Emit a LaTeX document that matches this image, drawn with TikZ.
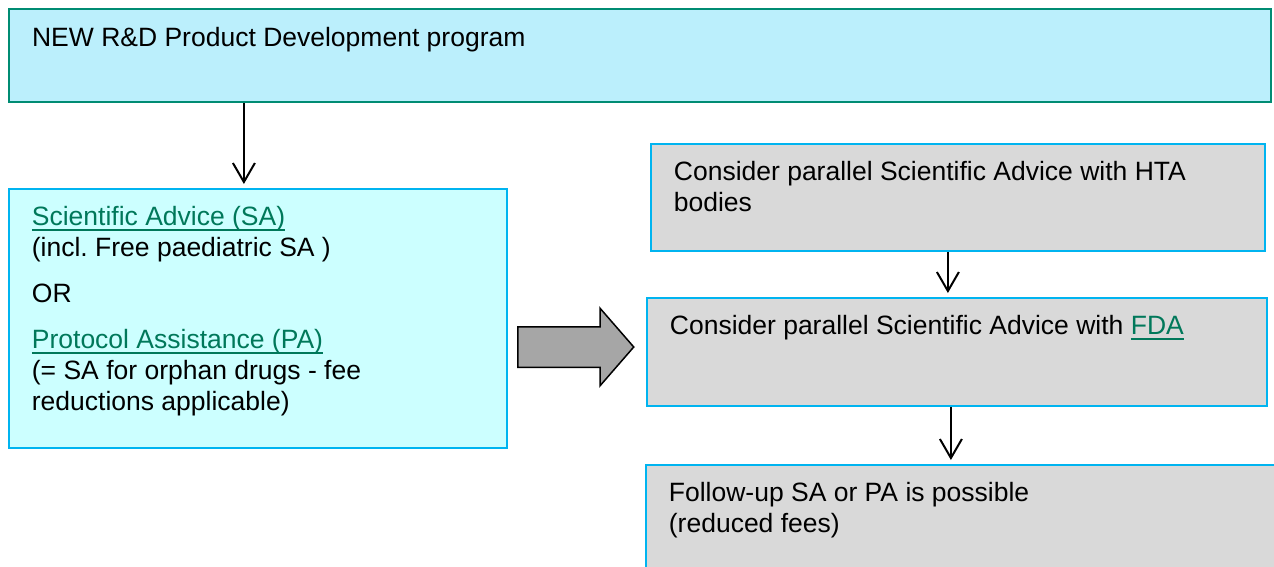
\documentclass[tikz,border=0pt]{standalone}
\usepackage{fontspec}
\setmainfont{Liberation Sans}
\usetikzlibrary{arrows.meta,shapes.arrows,positioning}
\definecolor{programColor}{RGB}{187,239,252}
\definecolor{programLine}{RGB}{0,140,115}
\definecolor{adviceColor}{RGB}{204,255,255}
\definecolor{boxLine}{RGB}{0,180,240}
\definecolor{parallelColor}{RGB}{217,217,217}
\definecolor{linkColor}{RGB}{0,120,90}
\definecolor{bigarrowColor}{RGB}{166,166,166}
\frenchspacing
\newcommand{\boxtext}[3]{\begin{minipage}[t][#2][t]{#1}\rule{0pt}{37pt}#3\end{minipage}}
\newcommand{\weblink}[1]{\textcolor{linkColor}{\setbox0\hbox{#1}\rlap{\rule[-5pt]{\wd0}{2pt}}\box0}}
\tikzset{panel/.style={draw, anchor=north west, inner xsep=23pt, inner ysep=0pt, font=\fontsize{26.5pt}{31pt}\selectfont}}
\tikzset{program/.style={panel, fill=programColor, draw=programLine, line width=2.2pt}}
\tikzset{advice/.style={panel, fill=adviceColor, draw=boxLine, line width=1.8pt}}
\tikzset{parallel/.style={advice, fill=parallelColor}}
\tikzset{bigarrow/.style={single arrow, draw=black, line width=1.5pt, fill=bigarrowColor, inner xsep=0pt, inner ysep=19.5pt, minimum height=116pt, minimum width=76pt, single arrow head extend=18.5pt, single arrow tip angle=98}}
\tikzstyle{arrow} = [line width=2pt, -{Straight Barb[length=19pt, width=22pt]}, shorten >=4pt]

\begin{document}
\begin{tikzpicture}[x=1pt, y=-1pt]
	\useasboundingbox (0,0) rectangle (1274,567);
	% Nodes
	\node (program) [program] at (8,8) {\boxtext{1216pt}{93pt}{NEW R\&D Product Development program}};
	\node (advice) [advice] at (8,188) {\boxtext{452pt}{259pt}{\weblink{Scientific Advice (SA)}\\ (incl. Free paediatric SA )\\[15pt] OR\\[15pt] \weblink{Protocol Assistance (PA)}\\ (= SA for orphan drugs - fee\\ reductions applicable)}};
	\node (hta) [parallel] at (650,143) {\boxtext{568pt}{107pt}{Consider parallel Scientific Advice with HTA\\ bodies}};
	\node (fda) [parallel] at (646,297) {\boxtext{574pt}{108pt}{Consider parallel Scientific Advice with \weblink{FDA}}};
	\node (followup) [parallel] at (645,464) {\boxtext{600pt}{120pt}{Follow-up SA or PA is possible\\ (reduced fees)}};
	\node (shift) [bigarrow, anchor=tail] at (517,347) {};

	% Connectors
	\draw [arrow] ([xshift=-14pt]advice.north |- program.south) -- ([xshift=-14pt]advice.north);
	\draw [arrow] ([xshift=-10pt]hta.south) -- ([xshift=-10pt]hta.south |- fda.north);
	\draw [arrow] ([xshift=-6pt]fda.south) -- ([xshift=-6pt]fda.south |- followup.north);
\end{tikzpicture}
\end{document}
